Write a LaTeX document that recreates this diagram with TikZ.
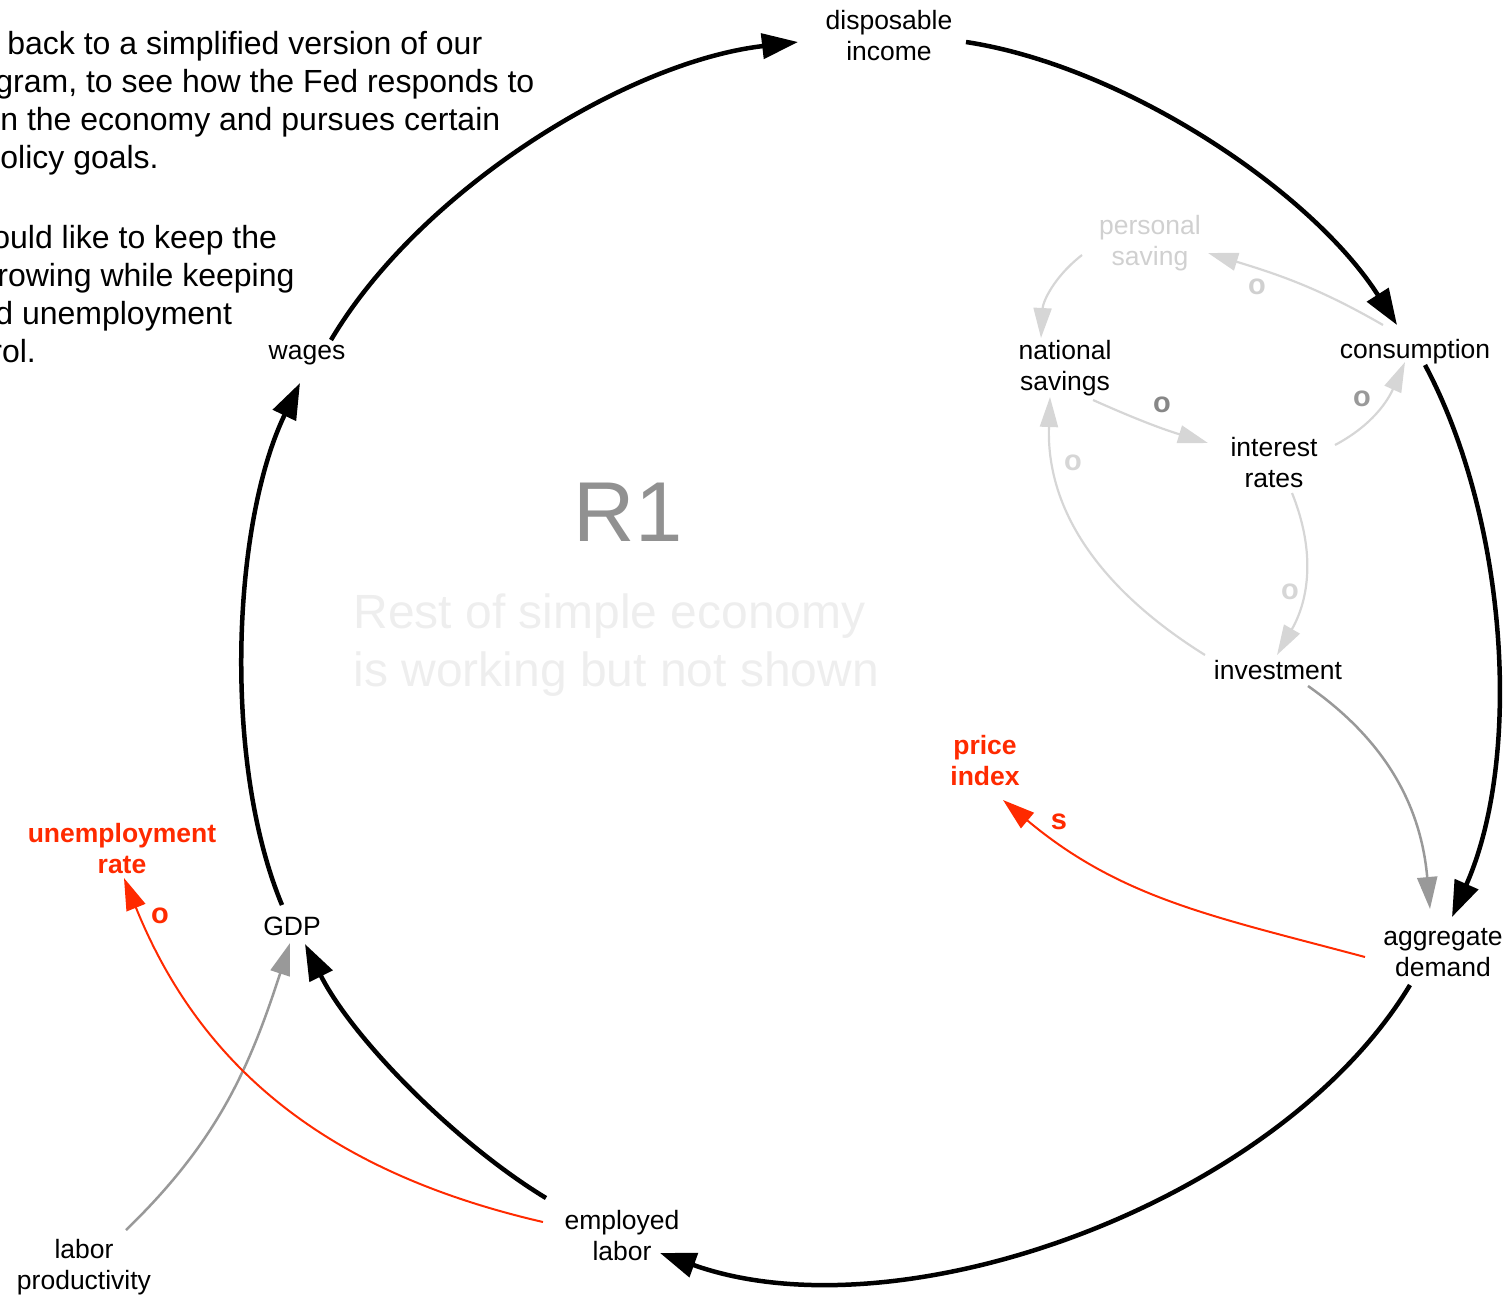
\documentclass[tikz,border=0pt]{standalone}
\usepackage{fontspec}
\setmainfont{Liberation Sans}
\usetikzlibrary{arrows.meta,calc}
\definecolor{redc}{HTML}{FF2A00}
\definecolor{grayedgec}{HTML}{999999}
\definecolor{lightedgec}{HTML}{D6D6D6}
\definecolor{pstext}{HTML}{D0D0D0}
\definecolor{rone}{HTML}{919191}
\definecolor{restc}{HTML}{EEEEEE}
\tikzset{
  lbl/.style={font=\fontsize{13.25pt}{15.5pt}\selectfont, align=center, inner sep=0pt},
  redlbl/.style={font=\fontsize{13.25pt}{15.5pt}\selectfont\bfseries, text=redc, align=center, inner sep=0pt},
  para/.style={font=\fontsize{16pt}{19pt}\selectfont, anchor=base west, inner sep=0pt},
  pol/.style={font=\fontsize{14.5pt}{16pt}\selectfont\bfseries, inner sep=0pt},
  mainedge/.style={line width=2.25pt, draw=black, -{Triangle[length=18pt,width=12.5pt]}},
  grayedge/.style={line width=1.25pt, draw=grayedgec, -{Triangle[length=16pt,width=10pt]}},
  lightedge/.style={line width=1.1pt, draw=lightedgec, -{Triangle[length=15pt,width=9pt]}},
  rededge/.style={line width=1pt, draw=redc, -{Triangle[length=16pt,width=10pt]}}
}
\begin{document}
\begin{tikzpicture}[x=0.5pt,y=-0.5pt]
\path[use as bounding box] (0,0) rectangle (1511,1298);
\clip (0,0) rectangle (1511,1298);

% paragraph fragments
\node[para] (p1) at (7,54) {back to a simplified version of our};
\node[para] (p2) at (-5,92) {gram, to see how the Fed responds to};
\node[para] (p3) at (0,130) {n the economy and pursues certain};
\node[para] (p4) at (0,168) {olicy goals.};
\node[para] (p5) at (-8,248) {ould like to keep the};
\node[para] (p6) at (-3,286) {rowing while keeping};
\node[para] (p7) at (-5,324) {d unemployment};
\node[para] (p8) at (-9,362) {rol.};

% central labels
\node[font=\fontsize{42.5pt}{50pt}\selectfont, text=rone, inner sep=0pt] (r1) at (628,512) {R1};
\node[font=\fontsize{24pt}{29pt}\selectfont, text=restc, align=left, anchor=west, inner sep=0pt] (rest) at (353,645) {Rest of simple economy\\is working but not shown};

% variables
\node[lbl] (disp) at (889,36) {disposable\\income};
\node[lbl] (cons) at (1415,352) {consumption};
\node[lbl] (ad) at (1443,953) {aggregate\\demand};
\node[lbl] (emp) at (622,1236) {employed\\labor};
\node[lbl] (gdp) at (292,926) {GDP};
\node[lbl] (wages) at (307,355) {wages};
\node[lbl, text=pstext] (ps) at (1150,243) {personal\\saving};
\node[lbl] (ns) at (1065,368) {national\\savings};
\node[lbl] (ir) at (1274,463) {interest\\rates};
\node[lbl] (inv) at (1278,670) {investment};
\node[redlbl] (pi) at (985,761) {price\\index};
\node[redlbl] (ur) at (122,849) {unemployment\\rate};
\node[lbl] (lp) at (84,1267) {labor\\productivity};

% main reinforcing loop
\draw[mainedge] ($(wages)+(24,-15)$) to[out=59.4,in=186.6,looseness=0.80] ($(disp)+(-91,6)$);
\draw[mainedge] ($(disp)+(77,6)$) to[out=351.35,in=122.5,looseness=0.79] ($(cons)+(-18,-27)$);
\draw[mainedge] ($(cons)+(10,13)$) to[out=298.1,in=66.1,looseness=0.81] ($(ad)+(9,-36)$);
\draw[mainedge] ($(ad)+(-33,32)$) to[out=238.9,in=340.3,looseness=0.82] ($(emp)+(38,17)$);
\draw[mainedge] ($(emp)+(-76,-38)$) to[out=148.8,in=296.6,looseness=0.77] ($(gdp)+(13,18)$);
\draw[mainedge] ($(gdp)+(-10,-21)$) to[out=112.6,in=244.2,looseness=0.76] ($(wages)+(-7,28)$);

% light gray sub-structure
\draw[lightedge] ($(ps)+(-68,12)$) to[out=218,in=87] ($(ns)+(-24,-30)$);
\draw[lightedge] ($(cons)+(-32,-27)$) to[out=150,in=343] ($(ps)+(58,10)$);
\draw[lightedge] ($(ns)+(28,32)$) to[out=336,in=163] ($(ir)+(-66,-20)$);
\draw[lightedge] ($(ir)+(61,-18)$) to[out=28,in=246] ($(cons)+(-10,10)$);
\draw[lightedge] ($(ir)+(18,30)$) to[out=292,in=60] ($(inv)+(-1,-15)$);
\draw[lightedge] ($(inv)+(-73,-15)$) to[out=148,in=268] ($(ns)+(-15,29)$);

% gray links
\draw[grayedge] ($(inv)+(30,16)$) to[out=325,in=95] ($(ad)+(-13,-44)$);
\draw[grayedge] ($(lp)+(42,-37)$) to[out=44,in=252] ($(gdp)+(-2,17)$);

% red links
\draw[rededge] ($(ad)+(-78,4)$) to[out=165,in=320] ($(pi)+(18,39)$);
\draw[rededge] ($(emp)+(-79,-14)$) to[out=167,in=292] ($(ur)+(2,29)$);

% polarities
\node[pol, text=pstext] (o1) at (1257,287) {o};
\node[pol, text=black!47] (o2) at (1162,405) {o};
\node[pol, text=black!40] (o3) at (1362,399) {o};
\node[pol, text=lightedgec] (o4) at (1073,463) {o};
\node[pol, text=lightedgec] (o5) at (1290,592) {o};
\node[pol, text=redc] (o6) at (160,916) {o};
\node[pol, text=redc] (s1) at (1059,822) {s};
\end{tikzpicture}
\end{document}
